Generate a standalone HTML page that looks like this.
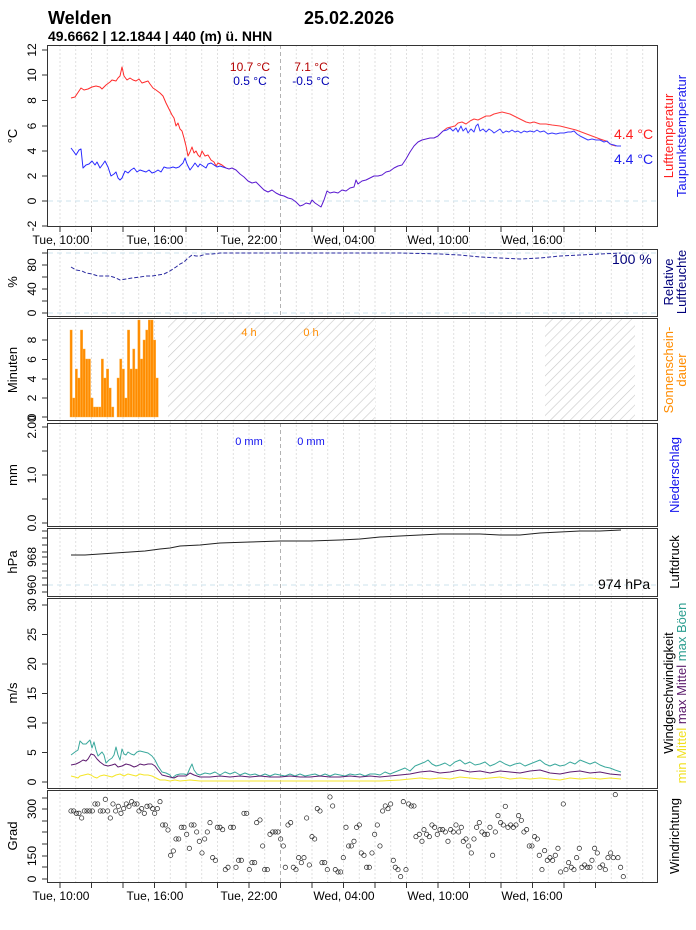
<!DOCTYPE html>
<html><head><meta charset="utf-8"><style>
html,body{margin:0;padding:0;background:#fff}
svg{display:block;font-family:"Liberation Sans",sans-serif}
</style></head><body>
<svg width="696" height="930" viewBox="0 0 696 930" xmlns="http://www.w3.org/2000/svg">
<text x="48" y="24" font-size="18" font-weight="bold">Welden</text>
<text x="304" y="24" font-size="18" font-weight="bold">25.02.2026</text>
<text x="48" y="41" font-size="14" font-weight="bold">49.6662 | 12.1844 | 440 (m) ü. NHN</text>

<!-- hourly grid -->
<g stroke="#d8d8d8" stroke-width="0.8" stroke-dasharray="2,2">
<path d="M60 45V883M75.75 45V883M91.5 45V883M107.25 45V883M123 45V883M138.75 45V883M154.5 45V883M170.25 45V883M186 45V883M201.75 45V883M217.5 45V883M233.25 45V883M249 45V883M264.75 45V883M296.25 45V883M312 45V883M327.75 45V883M343.5 45V883M359.25 45V883M375 45V883M390.75 45V883M406.5 45V883M422.25 45V883M438 45V883M453.75 45V883M469.5 45V883M485.25 45V883M501 45V883M516.75 45V883M532.5 45V883M548.25 45V883M564 45V883M579.75 45V883M595.5 45V883M611.25 45V883M627 45V883M642.75 45V883"/>
</g>
<path d="M280.5 45V883" stroke="#aaa" stroke-width="0.9" stroke-dasharray="4,3"/>
<g stroke="#cde3ee" stroke-width="1" stroke-dasharray="5,4">
<path d="M48 201H657M48 313H657M48 253H657M48 585H657"/>
</g>

<!-- frames -->
<g fill="none" stroke="#333" stroke-width="1">
<rect x="47.5" y="45.5" width="610" height="181"/>
<rect x="47.5" y="249.5" width="610" height="67"/>
<rect x="47.5" y="318.5" width="610" height="102"/>
<rect x="47.5" y="423.5" width="610" height="103"/>
<rect x="47.5" y="528.5" width="610" height="68"/>
<rect x="47.5" y="598.5" width="610" height="190"/>
<rect x="47.5" y="790.5" width="610" height="92"/>
</g>

<!-- x ticks -->
<g stroke="#333" stroke-width="1">
<path d="M60 227v5M91.5 227v5M123 227v5M154.5 227v5M186 227v5M217.5 227v5M249 227v5M280.5 227v5M312 227v5M343.5 227v5M375 227v5M406.5 227v5M438 227v5M469.5 227v5M501 227v5M532.5 227v5M564 227v5M595.5 227v5"/>
<path d="M60 883v5M91.5 883v5M123 883v5M154.5 883v5M186 883v5M217.5 883v5M249 883v5M280.5 883v5M312 883v5M343.5 883v5M375 883v5M406.5 883v5M438 883v5M469.5 883v5M501 883v5M532.5 883v5M564 883v5M595.5 883v5"/>
</g>
<g font-size="12" text-anchor="middle">
<text x="61" y="244">Tue, 10:00</text><text x="155" y="244">Tue, 16:00</text><text x="249" y="244">Tue, 22:00</text><text x="344" y="244">Wed, 04:00</text><text x="438" y="244">Wed, 10:00</text><text x="532" y="244">Wed, 16:00</text>
<text x="61" y="900">Tue, 10:00</text><text x="155" y="900">Tue, 16:00</text><text x="249" y="900">Tue, 22:00</text><text x="344" y="900">Wed, 04:00</text><text x="438" y="900">Wed, 10:00</text><text x="532" y="900">Wed, 16:00</text>
</g>

<!-- y ticks -->
<g stroke="#333" stroke-width="1">
<path d="M42 50h5.5M42 75h5.5M42 100.5h5.5M42 126h5.5M42 151h5.5M42 176h5.5M42 201h5.5M42 226h5.5"/>
<path d="M42 253h5.5M42 265h5.5M42 277h5.5M42 289h5.5M42 301h5.5M42 313h5.5"/>
<path d="M42 340h5.5M42 359.5h5.5M42 379h5.5M42 398h5.5M42 417h5.5"/>
<path d="M42 427h5.5M42 451h5.5M42 475h5.5M42 499h5.5M42 523h5.5"/>
<path d="M42 531h5.5M42 538h5.5M42 545h5.5M42 552h5.5M42 557h5.5M42 564h5.5M42 571h5.5M42 578h5.5M42 585h5.5M42 592h5.5"/>
<path d="M42 605h5.5M42 634.5h5.5M42 664h5.5M42 693.5h5.5M42 723h5.5M42 752.5h5.5M42 782h5.5"/>
<path d="M42 809h5.5M42 832h5.5M42 856h5.5M42 879h5.5M42 798h5.5M42 821h5.5M42 844h5.5M42 867h5.5"/>
</g>
<g font-size="12" text-anchor="middle">
<text transform="translate(36,50) rotate(-90)">12</text>
<text transform="translate(36,75) rotate(-90)">10</text>
<text transform="translate(36,100.5) rotate(-90)">8</text>
<text transform="translate(36,126) rotate(-90)">6</text>
<text transform="translate(36,151) rotate(-90)">4</text>
<text transform="translate(36,176) rotate(-90)">2</text>
<text transform="translate(36,201) rotate(-90)">0</text>
<text transform="translate(36,226) rotate(-90)">-2</text>
<text transform="translate(36,265) rotate(-90)">80</text>
<text transform="translate(36,289) rotate(-90)">40</text>
<text transform="translate(36,313) rotate(-90)">0</text>
<text transform="translate(36,340) rotate(-90)">8</text>
<text transform="translate(36,359.5) rotate(-90)">6</text>
<text transform="translate(36,379) rotate(-90)">4</text>
<text transform="translate(36,398) rotate(-90)">2</text>
<text transform="translate(36,417) rotate(-90)">0</text>
<text transform="translate(36,427) rotate(-90)">2.00</text>
<text transform="translate(36,475) rotate(-90)">1.0</text>
<text transform="translate(36,523) rotate(-90)">0.0</text>
<text transform="translate(36,557) rotate(-90)">968</text>
<text transform="translate(36,585) rotate(-90)">960</text>
<text transform="translate(36,605) rotate(-90)">30</text>
<text transform="translate(36,634.5) rotate(-90)">25</text>
<text transform="translate(36,664) rotate(-90)">20</text>
<text transform="translate(36,693.5) rotate(-90)">15</text>
<text transform="translate(36,723) rotate(-90)">10</text>
<text transform="translate(36,752.5) rotate(-90)">5</text>
<text transform="translate(36,782) rotate(-90)">0</text>
<text transform="translate(36,809) rotate(-90)">300</text>
<text transform="translate(36,856) rotate(-90)">150</text>
<text transform="translate(36,879) rotate(-90)">0</text>
</g>
<g font-size="13" text-anchor="middle">
<text transform="translate(17,136) rotate(-90)">°C</text>
<text transform="translate(17,282) rotate(-90)">%</text>
<text transform="translate(17,370) rotate(-90)">Minuten</text>
<text transform="translate(17,475) rotate(-90)">mm</text>
<text transform="translate(17,562) rotate(-90)">hPa</text>
<text transform="translate(17,693) rotate(-90)">m/s</text>
<text transform="translate(17,836) rotate(-90)">Grad</text>
</g>

<!-- right labels -->
<g font-size="13" text-anchor="middle">
<text transform="translate(673,136) rotate(-90)" fill="#ff2020">Lufttemperatur</text>
<text transform="translate(686,136) rotate(-90)" fill="#2020ee">Taupunktstemperatur</text>
<text transform="translate(673,282) rotate(-90)" fill="#00007a">Relative</text>
<text transform="translate(686,282) rotate(-90)" fill="#00007a">Luftfeuchte</text>
<text transform="translate(673,370) rotate(-90)" fill="#ff8c00">Sonnenschein-</text>
<text transform="translate(686,370) rotate(-90)" fill="#ff8c00">dauer</text>
<text transform="translate(679,475) rotate(-90)" fill="#1010ee">Niederschlag</text>
<text transform="translate(679,562) rotate(-90)">Luftdruck</text>
<text transform="translate(673,693) rotate(-90)">Windgeschwindigkeit</text>
<text transform="translate(686,693) rotate(-90)"><tspan fill="#f0e020">min Mittel</tspan>  <tspan fill="#5a1a6a">max Mittel</tspan>  <tspan fill="#2a9d8f">max Böen</tspan></text>
<text transform="translate(679,836) rotate(-90)">Windrichtung</text>
</g>

<!-- temperature -->
<g fill="none" stroke-width="1" stroke-linejoin="round">
<polyline stroke="#ff2a2a" points="71,98 75,97 79,91 81,88 84,90 88,89 92,87 96,86 100,87 102,89 106,85 110,82 112,80 116,81 118,78 120,76 122,67 124,76 127,80 130,78 133,80 136,81 139,79 142,83 145,82 148,81 150,84 153,88 156,90 160,93 163,96 166,103 169,109 172,115 174,118 176,126 178,123 180,129 182,131 184,138 186,146 188,156 190,152 192,147 194,153 196,151 198,155 200,157 202,151 205,156 208,155 211,160 214,162 216,166 218,163 222,165 226,168"/>
<polyline stroke="#2a2aff" points="71,148 74,152 76,155 79,150 81,149 83,168 86,165 89,164 92,161 95,165 97,162 100,168 103,164 105,161 108,167 111,176 114,174 116,172 118,178 120,180 122,178 125,171 128,173 131,170 134,168 137,172 140,170 143,171 146,172 149,170 152,173 155,172 158,170 161,172 164,167 167,168 170,168 173,167 176,168 179,167 183,163 185,158 187,164 190,170 193,166 195,163 198,167 200,164 203,166 206,168 208,164 211,163 214,165 217,167 220,166 226,168"/>
<polyline stroke="#5a1ad0" points="226,168 229,169 232,168 236,170 240,174 244,177 248,181 252,183 256,182 260,186 264,190 268,192 272,190 276,193 280,195 284,196 288,198 292,199 296,202 300,206 303,205 306,203 310,204 312,200 315,203 318,205 321,207 324,200 327,191 330,193 334,192 338,193 342,190 346,191 350,188 354,187 356,180 358,184 362,181 366,180 370,178 374,176 378,176 382,175 386,172 390,171 394,168 398,166 402,165 406,159 410,152 414,146 418,142 422,140 426,139 430,138 434,138 438,136 443,131"/>
<polyline stroke="#ff3a3a" points="443,131 447,128 451,127 455,126 458,123 462,122 466,124 470,121 474,119 478,120 482,118 486,116 490,116 494,114 498,113 502,112 506,113 510,114 514,116 518,118 522,120 526,122 530,123 534,122 540,124 546,124 552,125 560,126 568,128 576,130 584,133 592,136 600,139 606,141 612,145 616,146"/>
<polyline stroke="#3a3aff" points="443,131 447,130 450,128 453,131 456,128 458,132 461,126 463,131 466,128 468,133 471,129 474,132 476,126 478,124 480,131 483,129 486,132 489,129 492,131 494,133 497,131 500,129 503,133 506,131 509,132 512,130 515,132 518,131 521,133 524,131 527,132 530,131 534,132 537,130 540,132 544,131 548,134 552,133 556,134 560,133 564,133 568,132 571,132 574,131 577,134 580,136 584,138 588,140 592,139 596,140 600,140 604,142 607,141 610,144 614,145 617,146 621,146"/>
</g>
<g font-size="12" text-anchor="middle">
<text x="250" y="71" fill="#b40000">10.7 °C</text>
<text x="250" y="85" fill="#0000b4">0.5 °C</text>
<text x="311" y="71" fill="#b40000">7.1 °C</text>
<text x="311" y="85" fill="#0000b4">-0.5 °C</text>
</g>
<g font-size="14">
<text x="614" y="139" fill="#ff2020">4.4 °C</text>
<text x="614" y="164" fill="#2020ee">4.4 °C</text>
<text x="612" y="264" fill="#00007a">100 %</text>
<text x="598" y="589">974 hPa</text>
</g>

<!-- humidity -->
<polyline fill="none" stroke="#2a2aa0" stroke-width="1" stroke-dasharray="4,2" points="71,267 76,270 82,271 86,273 92,274 98,276 104,276 110,276 116,278 120,280 126,279 132,278 140,277 146,276 152,276 158,275 164,274 170,271 176,267 180,264 184,262 188,258 192,255 196,256 200,256 206,254 212,254 220,253 240,253 280,253 340,253 400,253 440,254 460,255 480,257 500,258 520,259 540,258 560,256 580,255 600,254 621,253"/>

<!-- sunshine -->
<defs>
<pattern id="h" width="7" height="7" patternUnits="userSpaceOnUse" patternTransform="rotate(45)">
<rect width="7" height="7" fill="#fff"/><path d="M0 0V7" stroke="#c8c8c8" stroke-width="1.2"/>
</pattern>
</defs>
<rect x="168" y="319" width="207" height="101" fill="url(#h)"/>
<rect x="545" y="319" width="90" height="101" fill="url(#h)"/>
<g fill="#ff8c00" stroke="#ffb040" stroke-width="0.4">
<rect x="70" y="330" width="2.3" height="87"/>
<rect x="72.6" y="398" width="2.3" height="19"/>
<rect x="75.2" y="369" width="2.3" height="48"/>
<rect x="77.8" y="378" width="2.3" height="39"/>
<rect x="80.4" y="330" width="2.3" height="87"/>
<rect x="83" y="349" width="2.3" height="68"/>
<rect x="85.6" y="359" width="2.3" height="58"/>
<rect x="88.2" y="359" width="2.3" height="58"/>
<rect x="90.8" y="398" width="2.3" height="19"/>
<rect x="93.4" y="407" width="2.3" height="10"/>
<rect x="96" y="407" width="2.3" height="10"/>
<rect x="98.6" y="407" width="2.3" height="10"/>
<rect x="101.2" y="359" width="2.3" height="58"/>
<rect x="103.8" y="378" width="2.3" height="39"/>
<rect x="106.4" y="369" width="2.3" height="48"/>
<rect x="109" y="388" width="2.3" height="29"/>
<rect x="111.6" y="407" width="2.3" height="10"/>
<rect x="117" y="378" width="2.3" height="39"/>
<rect x="119.6" y="359" width="2.3" height="58"/>
<rect x="122.2" y="369" width="2.3" height="48"/>
<rect x="124.8" y="398" width="2.3" height="19"/>
<rect x="127.4" y="330" width="2.3" height="87"/>
<rect x="130" y="369" width="2.3" height="48"/>
<rect x="132.6" y="349" width="2.3" height="68"/>
<rect x="135.2" y="369" width="2.3" height="48"/>
<rect x="137.8" y="320" width="2.3" height="97"/>
<rect x="140.4" y="359" width="2.3" height="58"/>
<rect x="143" y="340" width="2.3" height="77"/>
<rect x="145.6" y="330" width="2.3" height="87"/>
<rect x="148.2" y="320" width="2.3" height="97"/>
<rect x="150.8" y="320" width="2.3" height="97"/>
<rect x="153.4" y="340" width="2.3" height="77"/>
<rect x="156" y="378" width="2.3" height="39"/>
</g>
<text x="249" y="336" font-size="11" fill="#ff8c00" text-anchor="middle">4 h</text>
<text x="311" y="336" font-size="11" fill="#ff8c00" text-anchor="middle">0 h</text>
<text x="249" y="445" font-size="11" fill="#1010ee" text-anchor="middle">0 mm</text>
<text x="311" y="445" font-size="11" fill="#1010ee" text-anchor="middle">0 mm</text>

<!-- pressure -->
<polyline fill="none" stroke="#222" stroke-width="1" points="71,555 85,555 100,554 115,553 130,552 145,551 160,549 170,548 180,546 200,545 220,543 250,542 280,541 310,541 340,540 360,539 380,537 400,536 420,535 440,534 460,534 480,534 500,535 520,535 540,533 560,532 580,531 600,531 621,530"/>

<!-- wind -->
<g fill="none" stroke-width="1" stroke-linejoin="round">
<polyline stroke="#3aa89c" points="71,755 75,752 78,750 80,741 83,744 86,744 88,742 90,740 92,748 94,742 96,750 98,756 100,754 102,752 104,755 106,763 109,760 112,758 114,755 116,747 118,755 120,760 122,749 124,754 126,755 128,752 131,754 134,755 137,752 140,751 144,752 148,753 152,756 155,760 158,766 162,772 166,773 170,775 172,778 176,775 180,774 184,774 187,775 190,768 192,764 194,770 197,774 200,775 205,773 210,774 215,772 220,775 225,772 230,774 235,772 240,775 245,773 250,775 255,774 260,776 265,774 270,776 275,774 280,775 285,776 290,774 295,776 300,774 305,776 310,775 315,774 320,776 325,774 330,776 335,774 340,775 345,776 350,774 355,775 360,774 365,776 370,774 375,774 380,775 385,772 390,774 395,772 400,770 405,768 410,771 415,766 420,764 425,762 428,760 432,764 436,766 440,765 445,763 450,766 455,762 460,760 465,764 470,762 475,765 480,764 485,762 490,766 495,764 500,761 505,764 510,766 515,764 520,763 525,766 530,764 535,762 540,760 545,764 550,766 555,764 560,766 565,765 570,762 575,764 580,760 585,762 590,764 595,762 600,765 605,767 610,768 615,770 621,772"/>
<polyline stroke="#5e1c70" points="71,765 76,764 80,762 83,760 86,761 88,759 91,754 94,755 97,759 100,762 104,765 108,766 112,765 115,764 118,767 122,766 126,764 130,765 134,767 137,766 140,764 144,765 148,764 152,764 155,766 158,770 162,775 166,776 170,777 174,778 178,776 182,776 186,776 190,773 194,775 200,777 210,777 220,776 230,777 240,776 250,777 260,776 270,777 280,777 290,776 300,777 310,777 320,776 330,777 340,777 350,776 360,777 370,776 380,777 390,776 400,775 410,774 420,772 430,771 440,773 450,772 460,770 470,772 480,771 490,773 500,771 510,772 520,773 530,771 540,770 550,773 560,774 570,772 580,771 590,773 600,772 610,774 621,775"/>
<polyline stroke="#f5e62a" points="71,776 75,777 78,778 80,776 84,775 88,774 91,775 94,777 97,778 100,776 104,775 108,776 112,777 116,775 120,774 124,776 128,774 132,775 136,776 140,774 144,775 148,775 152,776 156,778 160,780 165,780 170,781 175,780 180,781 190,780 200,781 210,781 230,781 260,781 300,781 340,781 380,781 400,780 410,779 420,778 430,779 440,778 450,779 460,777 470,778 480,779 490,778 500,777 510,779 520,778 530,779 540,778 550,779 560,780 570,778 580,779 590,778 600,779 610,778 621,779"/>
</g>

<!-- wind direction -->
<g fill="none" stroke="#222" stroke-width="2.1" transform="translate(0,600) scale(0.3333)">
<circle cx="213" cy="633" r="6.5"/><circle cx="221" cy="633" r="6.5"/><circle cx="229" cy="640" r="6.5"/><circle cx="237" cy="640" r="6.5"/><circle cx="245" cy="654" r="6.5"/><circle cx="253" cy="633" r="6.5"/><circle cx="261" cy="633" r="6.5"/><circle cx="269" cy="633" r="6.5"/><circle cx="277" cy="633" r="6.5"/><circle cx="285" cy="612" r="6.5"/><circle cx="293" cy="612" r="6.5"/><circle cx="301" cy="633" r="6.5"/><circle cx="309" cy="633" r="6.5"/><circle cx="316" cy="598" r="6.5"/><circle cx="323" cy="633" r="6.5"/><circle cx="331" cy="654" r="6.5"/><circle cx="339" cy="612" r="6.5"/><circle cx="347" cy="633" r="6.5"/><circle cx="355" cy="619" r="6.5"/><circle cx="363" cy="640" r="6.5"/><circle cx="371" cy="626" r="6.5"/><circle cx="379" cy="612" r="6.5"/><circle cx="387" cy="619" r="6.5"/><circle cx="395" cy="605" r="6.5"/><circle cx="403" cy="612" r="6.5"/><circle cx="411" cy="612" r="6.5"/><circle cx="417" cy="633" r="6.5"/><circle cx="425" cy="626" r="6.5"/><circle cx="433" cy="640" r="6.5"/><circle cx="441" cy="619" r="6.5"/>
</g>
<g fill="none" stroke="#222" stroke-width="2.1" transform="translate(150,780) scale(0.3333)">
<circle cx="0" cy="78" r="6.5"/><circle cx="8" cy="86" r="6.5"/><circle cx="14" cy="100" r="6.5"/><circle cx="22" cy="86" r="6.5"/><circle cx="30" cy="65" r="6.5"/><circle cx="38" cy="135" r="6.5"/><circle cx="46" cy="135" r="6.5"/><circle cx="54" cy="150" r="6.5"/><circle cx="62" cy="226" r="6.5"/><circle cx="70" cy="213" r="6.5"/><circle cx="78" cy="177" r="6.5"/><circle cx="86" cy="177" r="6.5"/><circle cx="94" cy="142" r="6.5"/><circle cx="102" cy="142" r="6.5"/><circle cx="110" cy="163" r="6.5"/><circle cx="118" cy="205" r="6.5"/><circle cx="124" cy="135" r="6.5"/><circle cx="132" cy="135" r="6.5"/><circle cx="140" cy="156" r="6.5"/><circle cx="148" cy="184" r="6.5"/><circle cx="156" cy="219" r="6.5"/><circle cx="164" cy="177" r="6.5"/><circle cx="172" cy="156" r="6.5"/><circle cx="180" cy="128" r="6.5"/><circle cx="188" cy="233" r="6.5"/><circle cx="196" cy="241" r="6.5"/><circle cx="202" cy="142" r="6.5"/><circle cx="210" cy="142" r="6.5"/><circle cx="218" cy="149" r="6.5"/><circle cx="226" cy="269" r="6.5"/><circle cx="234" cy="262" r="6.5"/><circle cx="242" cy="142" r="6.5"/><circle cx="250" cy="142" r="6.5"/><circle cx="258" cy="262" r="6.5"/><circle cx="266" cy="241" r="6.5"/><circle cx="274" cy="241" r="6.5"/><circle cx="282" cy="100" r="6.5"/><circle cx="290" cy="100" r="6.5"/><circle cx="298" cy="269" r="6.5"/><circle cx="306" cy="248" r="6.5"/><circle cx="314" cy="248" r="6.5"/><circle cx="320" cy="128" r="6.5"/><circle cx="330" cy="120" r="6.5"/><circle cx="338" cy="198" r="6.5"/><circle cx="344" cy="269" r="6.5"/><circle cx="352" cy="269" r="6.5"/><circle cx="360" cy="163" r="6.5"/><circle cx="368" cy="156" r="6.5"/><circle cx="376" cy="156" r="6.5"/><circle cx="384" cy="156" r="6.5"/><circle cx="392" cy="177" r="6.5"/><circle cx="400" cy="198" r="6.5"/><circle cx="406" cy="262" r="6.5"/><circle cx="414" cy="135" r="6.5"/><circle cx="422" cy="128" r="6.5"/><circle cx="430" cy="262" r="6.5"/><circle cx="438" cy="269" r="6.5"/><circle cx="446" cy="233" r="6.5"/><circle cx="454" cy="248" r="6.5"/><circle cx="462" cy="233" r="6.5"/><circle cx="470" cy="114" r="6.5"/><circle cx="478" cy="255" r="6.5"/><circle cx="486" cy="170" r="6.5"/><circle cx="494" cy="177" r="6.5"/><circle cx="502" cy="86" r="6.5"/><circle cx="510" cy="93" r="6.5"/><circle cx="516" cy="248" r="6.5"/><circle cx="524" cy="248" r="6.5"/><circle cx="532" cy="269" r="6.5"/><circle cx="540" cy="51" r="6.5"/><circle cx="548" cy="78" r="6.5"/><circle cx="556" cy="269" r="6.5"/><circle cx="564" cy="276" r="6.5"/><circle cx="572" cy="276" r="6.5"/><circle cx="580" cy="233" r="6.5"/><circle cx="588" cy="142" r="6.5"/><circle cx="596" cy="198" r="6.5"/><circle cx="604" cy="198" r="6.5"/><circle cx="612" cy="184" r="6.5"/><circle cx="620" cy="142" r="6.5"/><circle cx="628" cy="135" r="6.5"/><circle cx="634" cy="219" r="6.5"/><circle cx="642" cy="226" r="6.5"/><circle cx="650" cy="262" r="6.5"/><circle cx="658" cy="262" r="6.5"/><circle cx="666" cy="219" r="6.5"/><circle cx="674" cy="163" r="6.5"/><circle cx="682" cy="135" r="6.5"/><circle cx="690" cy="198" r="6.5"/><circle cx="698" cy="93" r="6.5"/><circle cx="706" cy="78" r="6.5"/><circle cx="714" cy="86" r="6.5"/><circle cx="722" cy="72" r="6.5"/><circle cx="730" cy="241" r="6.5"/><circle cx="736" cy="262" r="6.5"/><circle cx="744" cy="269" r="6.5"/><circle cx="752" cy="290" r="6.5"/><circle cx="760" cy="65" r="6.5"/><circle cx="768" cy="269" r="6.5"/><circle cx="776" cy="72" r="6.5"/><circle cx="784" cy="78" r="6.5"/><circle cx="792" cy="78" r="6.5"/><circle cx="798" cy="170" r="6.5"/><circle cx="808" cy="163" r="6.5"/><circle cx="816" cy="184" r="6.5"/><circle cx="822" cy="149" r="6.5"/><circle cx="830" cy="163" r="6.5"/><circle cx="838" cy="170" r="6.5"/><circle cx="846" cy="135" r="6.5"/><circle cx="854" cy="142" r="6.5"/><circle cx="862" cy="163" r="6.5"/><circle cx="870" cy="149" r="6.5"/><circle cx="878" cy="149" r="6.5"/><circle cx="886" cy="156" r="6.5"/><circle cx="894" cy="184" r="6.5"/><circle cx="902" cy="149" r="6.5"/><circle cx="910" cy="156" r="6.5"/><circle cx="918" cy="135" r="6.5"/><circle cx="926" cy="156" r="6.5"/><circle cx="934" cy="142" r="6.5"/><circle cx="940" cy="184" r="6.5"/><circle cx="948" cy="177" r="6.5"/><circle cx="956" cy="198" r="6.5"/><circle cx="964" cy="219" r="6.5"/><circle cx="972" cy="177" r="6.5"/><circle cx="980" cy="142" r="6.5"/><circle cx="988" cy="128" r="6.5"/><circle cx="996" cy="156" r="6.5"/><circle cx="1004" cy="163" r="6.5"/><circle cx="1012" cy="163" r="6.5"/><circle cx="1020" cy="142" r="6.5"/><circle cx="1028" cy="226" r="6.5"/><circle cx="1036" cy="156" r="6.5"/><circle cx="1044" cy="107" r="6.5"/><circle cx="1052" cy="128" r="6.5"/><circle cx="1060" cy="135" r="6.5"/><circle cx="1066" cy="79" r="6.5"/><circle cx="1074" cy="142" r="6.5"/><circle cx="1082" cy="135" r="6.5"/><circle cx="1090" cy="142" r="6.5"/><circle cx="1098" cy="135" r="6.5"/><circle cx="1106" cy="107" r="6.5"/><circle cx="1114" cy="121" r="6.5"/><circle cx="1122" cy="156" r="6.5"/><circle cx="1130" cy="149" r="6.5"/><circle cx="1138" cy="198" r="6.5"/><circle cx="1146" cy="198" r="6.5"/><circle cx="1154" cy="170" r="6.5"/><circle cx="1162" cy="177" r="6.5"/><circle cx="1168" cy="226" r="6.5"/><circle cx="1176" cy="269" r="6.5"/><circle cx="1184" cy="212" r="6.5"/><circle cx="1192" cy="241" r="6.5"/><circle cx="1200" cy="233" r="6.5"/><circle cx="1208" cy="241" r="6.5"/><circle cx="1216" cy="226" r="6.5"/><circle cx="1224" cy="205" r="6.5"/><circle cx="1232" cy="276" r="6.5"/><circle cx="1240" cy="72" r="6.5"/><circle cx="1248" cy="269" r="6.5"/><circle cx="1256" cy="248" r="6.5"/><circle cx="1264" cy="262" r="6.5"/><circle cx="1272" cy="269" r="6.5"/><circle cx="1280" cy="233" r="6.5"/><circle cx="1288" cy="205" r="6.5"/><circle cx="1296" cy="262" r="6.5"/><circle cx="1304" cy="255" r="6.5"/><circle cx="1312" cy="262" r="6.5"/><circle cx="1320" cy="262" r="6.5"/><circle cx="1326" cy="241" r="6.5"/><circle cx="1334" cy="205" r="6.5"/><circle cx="1342" cy="219" r="6.5"/><circle cx="1350" cy="262" r="6.5"/><circle cx="1358" cy="255" r="6.5"/><circle cx="1366" cy="269" r="6.5"/><circle cx="1374" cy="233" r="6.5"/><circle cx="1382" cy="219" r="6.5"/><circle cx="1390" cy="233" r="6.5"/><circle cx="1396" cy="44" r="6.5"/><circle cx="1404" cy="233" r="6.5"/><circle cx="1412" cy="262" r="6.5"/><circle cx="1420" cy="290" r="6.5"/>
</g>
</svg>
</body></html>
